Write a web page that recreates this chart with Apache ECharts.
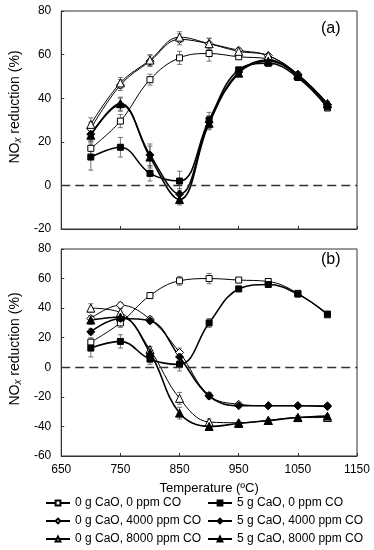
<!DOCTYPE html>
<html><head><meta charset="utf-8">
<script src="https://cdn.jsdelivr.net/npm/echarts@6/dist/echarts.min.js"></script>
<style>html,body{margin:0;padding:0;background:#fff}#c{width:374px;height:550px}</style>
</head><body><div id="c"></div>
<script>
// ---- data ----
const temps = [700, 750, 800, 850, 900, 950, 1000, 1050, 1100];
const seriesNames = [
  '0 g CaO, 0 ppm CO', '5 g CaO, 0 ppm CO',
  '0 g CaO, 4000 ppm CO', '5 g CaO, 4000 ppm CO',
  '0 g CaO, 8000 ppm CO', '5 g CaO, 8000 ppm CO'
];
// panel (a)
const aOpenSq   = [17, 29.5, 48.5, 58.5, 60.5, 59, 58, 50, 35.5];
const aFillSq   = [13, 17.5, 5.5, 2, 30, 53, 56, 49.5, 36];
const aOpenDia  = [26, 46, 57, 67, 65, 62, 59.5, 51, 37];
const aFillDia  = [23.5, 37, 14, -4, 29, 52, 57.5, 50.5, 37];
const aOpenTri  = [28, 47, 57.5, 68, 65, 61.5, 59.5, 51, 37.5];
const aFillTri  = [23, 37.5, 13, -6.5, 28.5, 51.5, 57, 50.5, 37.5];
const aErrOpenSq  = [3, 3, 2.5, 3, 3.5, 1, 1, 1, 1];
const aErrFillSq  = [6, 4.5, 3.5, 4.5, 3.5, 1, 1, 1, 1];
const aErrOpenDia = [3, 2.5, 2.5, 2.5, 2.5, 1, 1, 1, 1];
const aErrFillDia = [3, 3, 5, 2.5, 3, 1, 1, 1, 1];
const aErrOpenTri = [3, 2.5, 2.5, 2.5, 2.5, 1, 1, 1, 1];
const aErrFillTri = [3, 3, 5, 2.5, 3, 1, 1, 1, 1];
// panel (b)
const bOpenSq   = [17, 30, 48.5, 58.5, 60, 59, 58, 50, 35.5];
const bFillSq   = [13, 17.5, 5.5, 2, 30, 53, 56, 49.5, 36];
const bOpenDia  = [33, 42, 32.5, 10, -19, -25, -26, -26, -26];
const bFillDia  = [24, 33, 31.5, 7, -19.5, -26, -26, -26, -26.5];
const bOpenTri  = [40, 37, 12, -21, -37, -37.5, -36, -34, -34];
const bFillTri  = [32, 34, 10, -31, -40, -38, -36, -34, -33];
const bErrOpenSq  = [3, 3, 2, 3, 3.5, 1, 1, 1, 1];
const bErrFillSq  = [6, 4.5, 3.5, 4.5, 3, 1, 1, 1, 1];
const bErrOpenDia = [2, 2, 2, 3, 2, 1, 1, 1, 1];
const bErrFillDia = [2, 2, 2, 2.5, 2, 1, 1, 1, 1];
const bErrOpenTri = [3, 3, 2, 4, 2, 1, 1, 1, 1];
const bErrFillTri = [3, 3, 2, 4, 2, 1, 1, 1, 1];
const xTicks = { min: 650, max: 1150, interval: 100 };
const yA = { min: -20, max: 80, interval: 20 };
const yB = { min: -60, max: 80, interval: 20 };

// ---- chart ----
const FONT = 'Liberation Sans, Arial, sans-serif';
const symbols = ['rect', 'rect', 'diamond', 'diamond', 'triangle', 'triangle'];
const sizes = [6, 6, 8, 8, 8, 8];
const isOpen = [true, false, true, false, true, false];
const panelA = [aOpenSq, aFillSq, aOpenDia, aFillDia, aOpenTri, aFillTri];
const panelAErr = [aErrOpenSq, aErrFillSq, aErrOpenDia, aErrFillDia, aErrOpenTri, aErrFillTri];
const panelB = [bOpenSq, bFillSq, bOpenDia, bFillDia, bOpenTri, bFillTri];
const panelBErr = [bErrOpenSq, bErrFillSq, bErrOpenDia, bErrFillDia, bErrOpenTri, bErrFillTri];

function errSeries(vals, errs, g) {
  return {
    type: 'custom', xAxisIndex: g, yAxisIndex: g, silent: true, z: 1,
    encode: { x: 0, y: 1 },
    data: temps.map((t, i) => [t, vals[i], errs[i]]),
    renderItem: function (params, api) {
      const x = api.value(0), y = api.value(1), e = api.value(2);
      const top = api.coord([x, y + e]), bot = api.coord([x, y - e]);
      const w = 2.5, st = { stroke: '#555', lineWidth: 0.8 };
      return { type: 'group', children: [
        { type: 'line', shape: { x1: top[0], y1: top[1], x2: bot[0], y2: bot[1] }, style: st },
        { type: 'line', shape: { x1: top[0] - w, y1: top[1], x2: top[0] + w, y2: top[1] }, style: st },
        { type: 'line', shape: { x1: bot[0] - w, y1: bot[1], x2: bot[0] + w, y2: bot[1] }, style: st }
      ] };
    }
  };
}
function lineSeries(k, vals, g) {
  const s = {
    type: 'line', name: seriesNames[k], xAxisIndex: g, yAxisIndex: g, z: 3,
    data: temps.map((t, i) => [t, vals[i]]),
    smooth: 0.4, symbol: symbols[k], symbolSize: sizes[k],
    itemStyle: { color: isOpen[k] ? '#fff' : '#000', borderColor: '#000', borderWidth: 1 },
    lineStyle: { color: '#000', width: isOpen[k] ? 1 : 1.6 },
    emphasis: { disabled: true }
  };
  if (k === 0) {
    s.markLine = { silent: true, symbol: 'none', label: { show: false },
      lineStyle: { type: [9, 5], color: '#333', width: 1.4 }, data: [{ yAxis: 0 }] };
  }
  return s;
}
const series = [];
[panelA, panelB].forEach((panel, g) => {
  const errs = g === 0 ? panelAErr : panelBErr;
  panel.forEach((vals, k) => series.push(errSeries(vals, errs[k], g)));
});
[panelA, panelB].forEach((panel, g) => {
  panel.forEach((vals, k) => series.push(lineSeries(k, vals, g)));
});

const axisLineStyle = { lineStyle: { color: '#333', width: 1 } };
function xAxis(g) {
  return Object.assign({
    type: 'value', gridIndex: g,
    axisLine: Object.assign({ onZero: false }, axisLineStyle),
    axisTick: { inside: true, length: 3, lineStyle: { color: '#333' } },
    splitLine: { show: false },
    axisLabel: { show: g === 1, color: '#000', fontSize: 12, fontFamily: FONT, margin: 8,
      formatter: v => String(v) },
    name: g === 1 ? 'Temperature (ºC)' : '', nameLocation: 'middle', nameGap: 26,
    nameTextStyle: { color: '#000', fontSize: 13, fontFamily: FONT }
  }, xTicks);
}
function yAxis(g, rng, pad) {
  return Object.assign({
    type: 'value', gridIndex: g,
    axisLine: axisLineStyle,
    axisTick: { inside: true, length: 3, lineStyle: { color: '#333' } },
    splitLine: { show: false },
    axisLabel: { color: '#000', fontSize: 12, fontFamily: FONT, margin: 10, formatter: v => String(v) },
    name: 'NO{sub|x} reduction (%)', nameLocation: 'middle', nameGap: 36, nameRotate: 90,
    nameTextStyle: { color: '#000', fontSize: 14, fontFamily: FONT, padding: [0, 0, 0, pad],
      rich: { sub: { fontSize: 10, fontStyle: 'italic', fontFamily: FONT, padding: [6, 0, 0, 0], verticalAlign: 'bottom' } } }
  }, rng);
}
function legend(names, left) {
  return {
    data: names.map(n => ({ name: n })), left: left, top: 497, orient: 'vertical',
    itemWidth: 24, itemHeight: 6, itemGap: 6, padding: 0, selectedMode: false, height: 53,
    textStyle: { color: '#000', fontSize: 12, lineHeight: 12, fontFamily: FONT }
  };
}

const option = {
  animation: false,
  backgroundColor: '#fff',
  grid: [
    { left: 51, top: 11, width: 306, height: 218, show: true, borderColor: '#333', borderWidth: 1, backgroundColor: 'transparent' },
    { left: 51, top: 249, width: 306, height: 207, show: true, borderColor: '#333', borderWidth: 1, backgroundColor: 'transparent' }
  ],
  xAxis: [xAxis(0), xAxis(1)],
  yAxis: [yAxis(0, yA, 26), yAxis(1, yB, 7)],
  legend: [
    legend([seriesNames[0], seriesNames[2], seriesNames[4]], 45),
    legend([seriesNames[1], seriesNames[3], seriesNames[5]], 207)
  ],
  graphic: [
    { type: 'text', left: 321, top: 21, style: { text: '(a)', fontSize: 16, fontFamily: FONT, fill: '#000' } },
    { type: 'text', left: 321, top: 252, style: { text: '(b)', fontSize: 16, fontFamily: FONT, fill: '#000' } }
  ],
  series: series
};
const chart = echarts.init(document.getElementById('c'), null, { renderer: 'canvas' });
chart.setOption(option);
</script>
</body></html>
